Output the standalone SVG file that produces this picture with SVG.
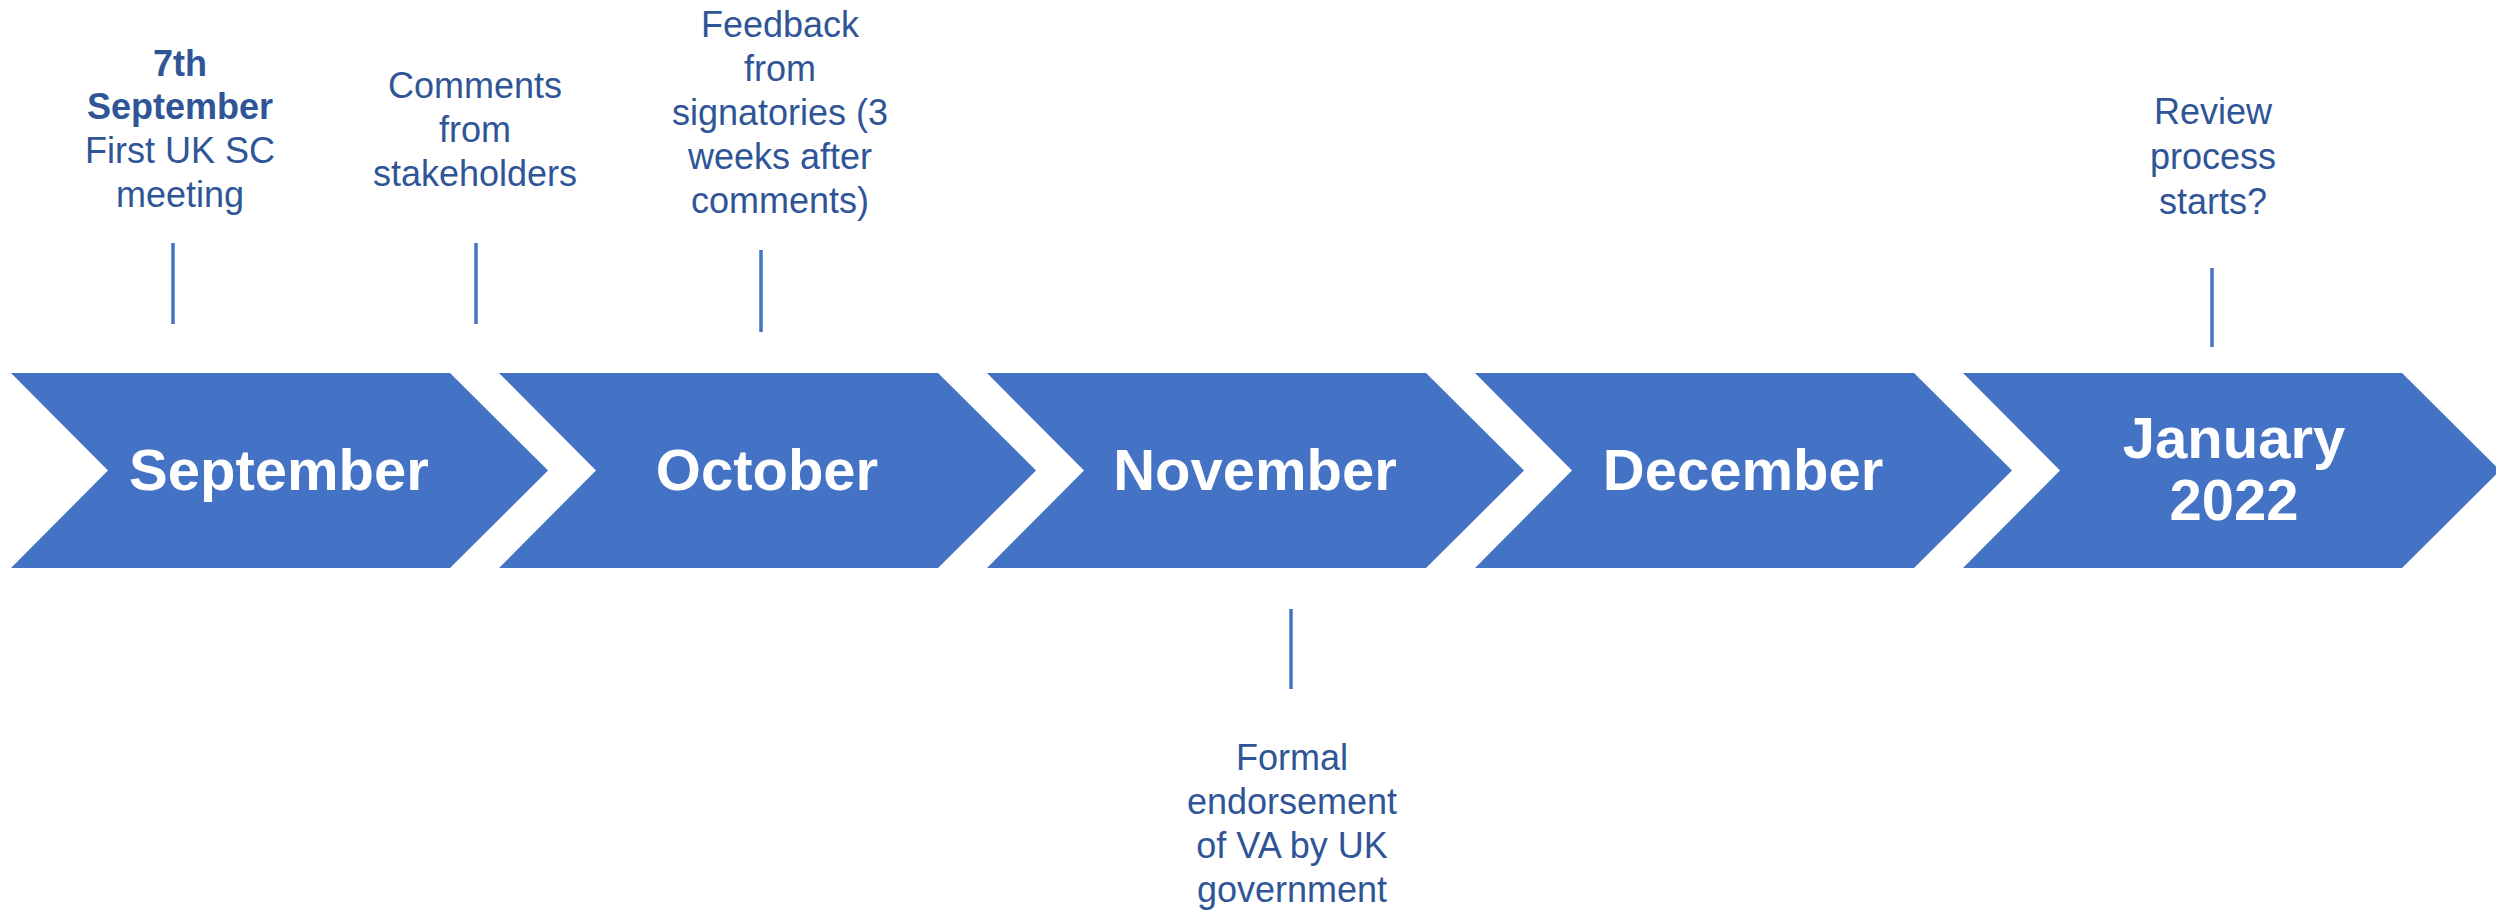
<svg xmlns="http://www.w3.org/2000/svg" width="2496" height="912" viewBox="0 0 2496 912">
<style>
.chev{fill:#4472C4;}
.month{font-family:"Liberation Sans",Arial,sans-serif;font-weight:bold;font-size:58px;fill:#FFFFFF;text-anchor:middle;}
.lbl{font-family:"Liberation Sans",Arial,sans-serif;font-size:36px;fill:#2F5597;text-anchor:middle;}
.b{font-weight:bold;}
.tick{stroke:#4472C4;stroke-width:3.5;fill:none;}
</style>
<defs>
<polygon id="chevshape" points="0,373 439,373 537,470.5 439,568 0,568 97,470.5"/>
</defs>
<rect width="2496" height="912" fill="#FFFFFF"/>
<g id="sep">
<use href="#chevshape" class="chev" x="11"/>
<text class="month" x="279" y="490">September</text>
</g>
<g id="oct">
<use href="#chevshape" class="chev" x="499"/>
<text class="month" x="767" y="490">October</text>
</g>
<g id="nov">
<use href="#chevshape" class="chev" x="987"/>
<text class="month" x="1255" y="490">November</text>
</g>
<g id="dec">
<use href="#chevshape" class="chev" x="1475"/>
<text class="month" x="1743" y="490">December</text>
</g>
<g id="jan">
<use href="#chevshape" class="chev" x="1963"/>
<text class="month" x="2234" y="458">January</text>
<text class="month" x="2234" y="520">2022</text>
</g>
<g id="ev1">
<text class="lbl" x="180" y="76"><tspan class="b">7th</tspan><tspan class="b" x="180" dy="43">September</tspan><tspan x="180" dy="44">First UK SC</tspan><tspan x="180" dy="44">meeting</tspan></text>
</g>
<g id="ev2">
<text class="lbl" x="475" y="98">Comments<tspan x="475" dy="44">from</tspan><tspan x="475" dy="44">stakeholders</tspan></text>
</g>
<g id="ev3">
<text class="lbl" x="780" y="37">Feedback<tspan x="780" dy="44">from</tspan><tspan x="780" dy="44">signatories (3</tspan><tspan x="780" dy="44">weeks after</tspan><tspan x="780" dy="44">comments)</tspan></text>
</g>
<g id="ev4">
<text class="lbl" x="1292" y="770">Formal<tspan x="1292" dy="44">endorsement</tspan><tspan x="1292" dy="44">of VA by UK</tspan><tspan x="1292" dy="44">government</tspan></text>
</g>
<g id="ev5">
<text class="lbl" x="2213" y="124">Review<tspan x="2213" dy="45">process</tspan><tspan x="2213" dy="45">starts?</tspan></text>
</g>
<g id="connectors">
<line class="tick" x1="173" y1="243" x2="173" y2="324"/>
<line class="tick" x1="476" y1="243" x2="476" y2="324"/>
<line class="tick" x1="761" y1="250" x2="761" y2="332"/>
<line class="tick" x1="1291" y1="609" x2="1291" y2="689"/>
<line class="tick" x1="2212" y1="268" x2="2212" y2="347"/>
</g>
</svg>
